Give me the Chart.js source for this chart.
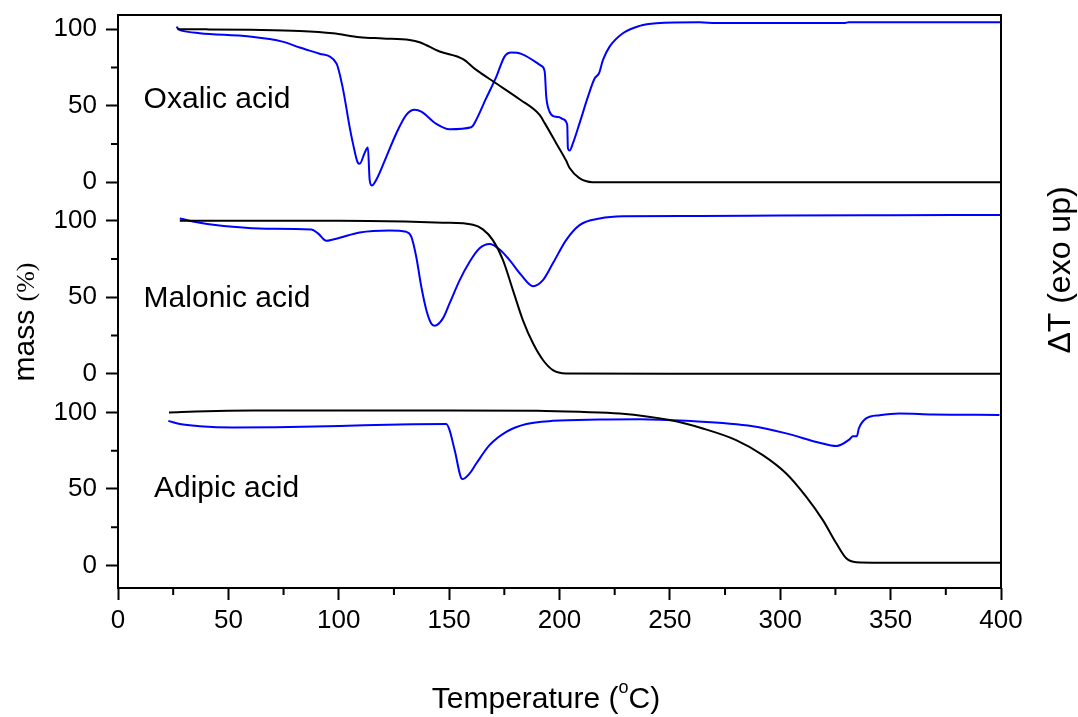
<!DOCTYPE html>
<html>
<head>
<meta charset="utf-8">
<script src="https://cdn.jsdelivr.net/npm/chart.js@4.4.1/dist/chart.umd.min.js"></script>
<style>
  html, body { margin: 0; padding: 0; background: #fff; }
  #wrap { width: 1078px; height: 717px; }
</style>
</head>
<body>
<div id="wrap"><canvas id="tga" width="1078" height="717"></canvas></div>
<script>
// panels are stacked on one y scale, each shifted by PANEL_OFFSET
const PANEL_OFFSET = 125.3;
const panelNames = ['Oxalic acid', 'Malonic acid', 'Adipic acid'];
const panelOffsets = [2 * PANEL_OFFSET, PANEL_OFFSET, 0];

const xTickValues = [0, 50, 100, 150, 200, 250, 300, 350, 400];
const yTickLabels = ['0', '50', '100', '0', '50', '100', '0', '50', '100'];

// Oxalic acid
const oxMassT = [27, 40, 60, 82.3, 97.4, 109.5, 120, 132.1, 136.6, 145.7, 156.3, 162.3, 171.4, 181.9, 191, 193.3, 198.5, 203, 204.6, 209, 215, 250, 300, 350, 400];
const oxMass  = [100, 99.9, 99.6, 98.9, 97.4, 94.8, 94, 93, 91.5, 85.4, 80.4, 73.4, 64.5, 54.2, 44, 38.6, 25.5, 14.1, 9.2, 2.6, 0, 0, 0, 0, 0];
const oxDtaT = [26.5, 27.5, 29.3, 37, 59.6, 74.5, 82.3, 91.3, 98.9, 101.9, 104.9, 106.4, 108.7, 109.5, 111.7, 113.2, 114, 115, 117, 121.6, 126.1, 130.6, 134.4, 137.4, 144.2, 150.2, 160, 161.5, 166.8, 171.4, 175.1, 178.2, 182.7, 191.8, 193.3, 194, 195.5, 197.8, 200, 201.5, 203.5, 203.8, 204.6, 206.1, 209.1, 212.9, 215.9, 217.9, 219.7, 222.7, 228.7, 236.3, 243.8, 263.4, 271, 329, 331, 400];
const oxDta  = [101.7, 100, 98.9, 97.4, 95.2, 91.9, 88, 84, 77.8, 61, 36.3, 25.5, 12.6, 12, 19, 22.6, 1.5, -2.2, 1.5, 16.7, 32, 44, 47.3, 46.1, 38.1, 34.6, 35.9, 38.6, 54.9, 69, 82.1, 84.7, 83.9, 76, 72.3, 55.9, 46.1, 42.9, 42.5, 41.2, 37.5, 22.2, 20.7, 25.5, 38.6, 55.9, 67.8, 71.2, 79.9, 88.6, 97.4, 102.2, 103.9, 104.6, 104, 104, 104.6, 104.6];

// Malonic acid
const maMassT = [28, 60, 100, 130, 147.2, 160.8, 165.3, 169.8, 174.4, 178.9, 183.4, 188, 192.5, 197, 203, 250, 300, 350, 400];
const maMass  = [100, 100, 100, 99.5, 98.8, 97.5, 94.4, 87.4, 74.3, 54.7, 35.1, 19.9, 9, 2.4, 0.2, 0, 0, 0, 0];
const maDtaT = [28, 37, 52, 67.2, 87.6, 90.6, 94.4, 97.4, 100.4, 109.5, 123, 130.6, 132.9, 135.1, 137.4, 139.7, 141.9, 143.4, 147.2, 150.2, 154.8, 159.3, 163.8, 168.3, 172.9, 177.4, 182.7, 188, 192.5, 197, 203, 209.1, 218.2, 228.7, 263.4, 300, 350, 400];
const maDta  = [101.5, 98.8, 96.1, 94.8, 94.4, 91.8, 86.9, 87.8, 88.9, 92.4, 93.7, 92.8, 89.5, 76.5, 56.9, 41.6, 32.9, 31.4, 36.2, 46, 61.2, 73.2, 82, 84.8, 81.3, 74.3, 64.5, 57.3, 61.2, 72.2, 87.4, 97.2, 101.5, 103, 103.2, 103.5, 103.7, 103.8];

// Adipic acid
const adMassT = [23.1, 40, 61.1, 100, 150, 190, 209.1, 227.3, 249.9, 264.9, 280, 292.1, 302.7, 311.8, 319.3, 325.4, 329.9, 334.4, 345, 400];
const adMass  = [100, 100.8, 101.2, 101.3, 101.3, 101.1, 100.4, 99.3, 95, 89.5, 81.9, 72.1, 60.1, 44.8, 29.6, 14.4, 4.6, 2, 1.7, 1.7];
const adDtaT = [22.8, 28, 37, 52.1, 71.7, 100.4, 127.6, 148.7, 150.2, 152.5, 156, 159.3, 162.3, 168.3, 175.9, 185, 197, 218.2, 236.3, 257.5, 287.6, 302.7, 317.8, 325.4, 331.4, 332.9, 334.7, 335.6, 338.9, 345, 354, 369.1, 399.3];
const adDta  = [94.5, 92.4, 91, 90.2, 90.4, 91.2, 92.1, 92.4, 88.4, 75.4, 56.4, 60.1, 66.6, 78.6, 87.3, 92.4, 94.5, 95.4, 95.6, 94.5, 91, 86.3, 80.2, 78, 82.4, 84.5, 84.5, 89.5, 96.1, 98.2, 99.3, 98.7, 98.4];

// label anchors (temperature, value inside panel)
const panelLabelT = [11.6, 11.6, 16.3];
const panelLabelV = [48.4, 43.8, 44.4];

function pts(ts, vs, off) {
    return ts.map((t, i) => ({ x: t, y: vs[i] + off }));
}

function line(label, ts, vs, off, color) {
    return {
        label: label,
        data: pts(ts, vs, off),
        borderColor: color,
        borderWidth: 2,
        pointRadius: 0,
        fill: false,
        cubicInterpolationMode: 'monotone'
    };
}

const SANS = '"Liberation Sans", Arial, sans-serif';

const framePlugin = {
    id: 'frame',
    afterDraw(chart) {
        const ctx = chart.ctx, a = chart.chartArea;
        const xs = chart.scales.x, ys = chart.scales.y;
        ctx.save();
        ctx.strokeStyle = '#000';
        ctx.lineWidth = 2;
        ctx.strokeRect(a.left, a.top, a.right - a.left, a.bottom - a.top);

        // minor ticks
        ctx.beginPath();
        for (let t = 25; t < 400; t += 50) {
            const px = xs.getPixelForValue(t);
            ctx.moveTo(px, a.bottom);
            ctx.lineTo(px, a.bottom + 7);
        }
        panelOffsets.forEach(off => {
            [25, 75].forEach(v => {
                const py = ys.getPixelForValue(v + off);
                ctx.moveTo(a.left, py);
                ctx.lineTo(a.left - 7, py);
            });
        });
        ctx.stroke();

        ctx.fillStyle = '#000';
        ctx.textBaseline = 'alphabetic';

        // panel names
        ctx.font = '30px ' + SANS;
        ctx.textAlign = 'left';
        panelNames.forEach((name, i) => {
            ctx.fillText(name, xs.getPixelForValue(panelLabelT[i]), ys.getPixelForValue(panelLabelV[i] + panelOffsets[i]));
        });

        // x title: Temperature (°C)
        const f1 = '30px ' + SANS;
        const f2 = '18px ' + SANS;
        ctx.font = f1;
        const w1 = ctx.measureText('Temperature (').width;
        const w3 = ctx.measureText('C)').width;
        ctx.font = f2;
        const w2 = ctx.measureText('o').width;
        const x0 = 546 - (w1 + w2 + w3) / 2;
        const by = 708;
        ctx.font = f1;
        ctx.fillText('Temperature (', x0, by);
        ctx.font = f2;
        ctx.fillText('o', x0 + w1, by - 15);
        ctx.font = f1;
        ctx.fillText('C)', x0 + w1 + w2, by);

        // left title: mass (%)
        ctx.save();
        ctx.translate(34, 322);
        ctx.rotate(-Math.PI / 2);
        const fa = '30px ' + SANS;
        const fb = '26px "Liberation Serif", "Times New Roman", serif';
        ctx.font = fa;
        const ma = ctx.measureText('mass ').width;
        ctx.font = fb;
        const mb = ctx.measureText('(%)').width;
        ctx.font = fa;
        ctx.fillText('mass ', -(ma + mb) / 2, 0);
        ctx.font = fb;
        ctx.fillText('(%)', -(ma + mb) / 2 + ma, 0);
        ctx.restore();

        // right title
        ctx.save();
        ctx.translate(1070, 270);
        ctx.rotate(-Math.PI / 2);
        ctx.font = '32px ' + SANS;
        ctx.textAlign = 'center';
        ctx.fillText('\u0394T (exo up)', 0, 0);
        ctx.restore();

        ctx.restore();
    }
};

const ctx = document.getElementById('tga').getContext('2d');
new Chart(ctx, {
    type: 'line',
    data: {
        datasets: [
            line('Oxalic mass', oxMassT, oxMass, panelOffsets[0], '#000000'),
            line('Oxalic DTA', oxDtaT, oxDta, panelOffsets[0], '#0000ff'),
            line('Malonic mass', maMassT, maMass, panelOffsets[1], '#000000'),
            line('Malonic DTA', maDtaT, maDta, panelOffsets[1], '#0000ff'),
            line('Adipic mass', adMassT, adMass, panelOffsets[2], '#000000'),
            line('Adipic DTA', adDtaT, adDta, panelOffsets[2], '#0000ff')
        ]
    },
    options: {
        responsive: false,
        animation: false,
        layout: { padding: { top: 15, right: 77, left: 0, bottom: 0 } },
        plugins: {
            legend: { display: false },
            tooltip: { enabled: false }
        },
        scales: {
            x: {
                type: 'linear',
                min: 0,
                max: 400,
                afterBuildTicks: scale => { scale.ticks = xTickValues.map(v => ({ value: v })); },
                afterFit: scale => {
                    scale.height = 129;
                    scale.paddingLeft = 0;
                    scale.paddingRight = 0;
                },
                ticks: {
                    color: '#000',
                    padding: 5,
                    maxRotation: 0,
                    font: { family: SANS, size: 26 }
                },
                grid: { drawOnChartArea: false, drawTicks: true, tickLength: 12, tickColor: '#000', tickWidth: 2 },
                border: { display: false }
            },
            y: {
                type: 'linear',
                min: -14.8,
                max: 359.9,
                afterBuildTicks: scale => {
                    const t = [];
                    [0, PANEL_OFFSET, 2 * PANEL_OFFSET].forEach(off => {
                        [0, 50, 100].forEach(v => t.push({ value: v + off }));
                    });
                    scale.ticks = t;
                },
                afterFit: scale => {
                    scale.width = 118;
                    scale.paddingTop = 0;
                    scale.paddingBottom = 0;
                },
                ticks: {
                    color: '#000',
                    padding: 9,
                    callback: (value, index) => yTickLabels[index],
                    font: { family: SANS, size: 26 }
                },
                grid: { drawOnChartArea: false, drawTicks: true, tickLength: 12, tickColor: '#000', tickWidth: 2 },
                border: { display: false }
            }
        }
    },
    plugins: [framePlugin]
});
</script>
</body>
</html>
